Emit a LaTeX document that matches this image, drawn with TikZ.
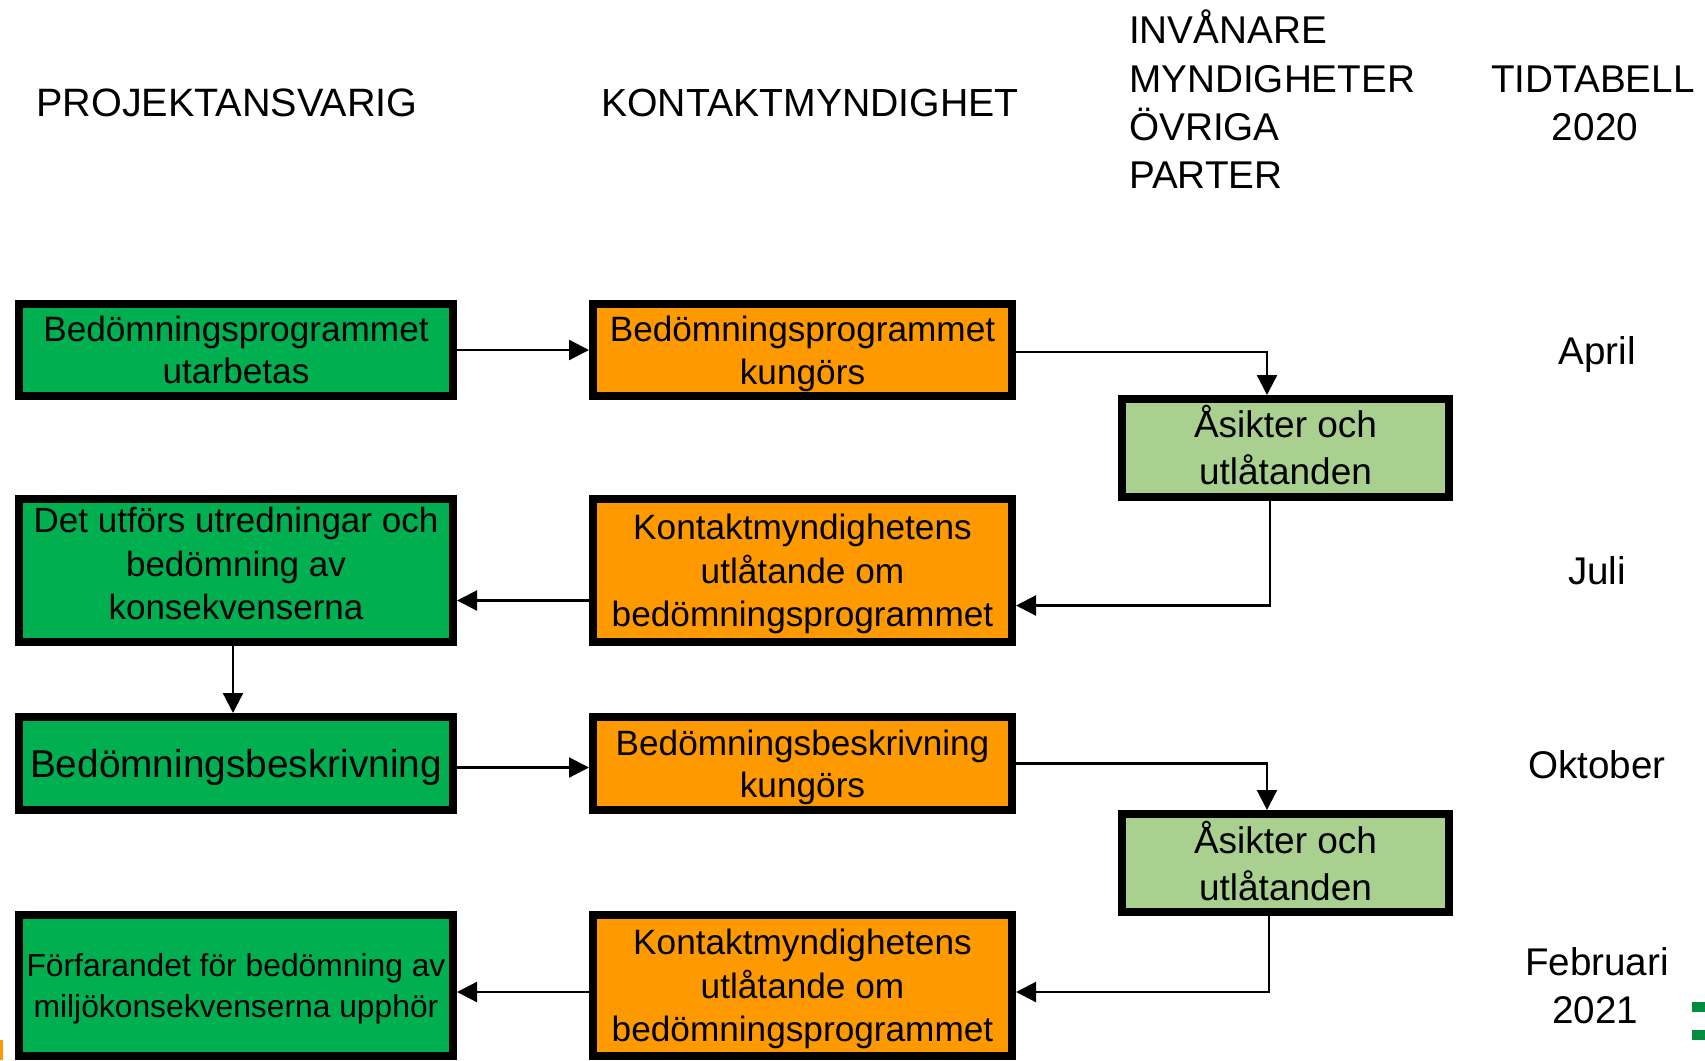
\documentclass[tikz,border=0pt]{standalone}
\usepackage{fontspec}
\setmainfont{Liberation Sans}
\usetikzlibrary{arrows.meta}
\definecolor{pgreen}{HTML}{00B050}
\definecolor{porange}{HTML}{FF9900}
\definecolor{plight}{HTML}{A9D08E}
\tikzset{
  box/.style={draw=black, line width=8pt, inner sep=0pt, align=center, text=black},
  wide/.style={box, minimum width=434pt},
  mid/.style={box, minimum width=419pt},
  small/.style={box, minimum width=327pt, minimum height=98pt,fill=plight,
     font=\fontsize{37}{47}\selectfont},
  gbox/.style={wide, fill=pgreen},
  obox/.style={mid, fill=porange},
  bodyfont/.style={font=\fontsize{35.2}{42.5}\selectfont},
  head/.style={font=\fontsize{38.7}{48}\selectfont, inner sep=0pt, text=black},
  timelab/.style={font=\fontsize{38.6}{48}\selectfont, inner sep=0pt, anchor=base, text=black},
  conn/.style={line width=2.2pt, -{Triangle[length=20pt,width=20pt]}}
}
\newcommand{\dropdepth}[1]{\rule[-#1]{0pt}{#1}}
\begin{document}
\begin{tikzpicture}[x=1pt,y=-1pt]
\useasboundingbox (0,0) rectangle (1705,1060);
\fill[white] (0,0) rectangle (1705,1060);

% headers
\node[head, anchor=west, font=\fontsize{39.6}{48}\selectfont] (h1) at (36,103) {PROJEKTANSVARIG};
\node[head, anchor=west, font=\fontsize{39.2}{48}\selectfont] (h2) at (601,103) {KONTAKTMYNDIGHET};
\node[head, anchor=base west] (h3a) at (1129,43) {INVÅNARE};
\node[head, anchor=base west] (h3b) at (1129,92) {MYNDIGHETER};
\node[head, anchor=base west] (h3c) at (1129,140) {ÖVRIGA};
\node[head, anchor=base west] (h3d) at (1129,188) {PARTER};
\node[head, anchor=base] (h4a) at (1593,92) {TIDTABELL};
\node[head, anchor=base] (h4b) at (1595,140) {2020};

% time labels
\node[timelab] (t1) at (1597,364) {April};
\node[timelab] (t2) at (1597,584) {Juli};
\node[timelab] (t3) at (1597,778) {Oktober};
\node[timelab] (t4) at (1597,975) {Februari};
\node[timelab] (t5) at (1595,1023) {2021};

% boxes
\node[gbox, bodyfont, minimum height=92pt] (G1) at (236,350) {Bedömningsprogrammet\\utarbetas};
\node[obox, bodyfont, minimum height=92pt] (O1) at (802.5,350) {Bedömningsprogrammet\\\smash{kungörs}};
\node[small] (L1) at (1285.5,448) {Åsikter och\\utlåtanden\dropdepth{6.5pt}};
\node[gbox, font=\fontsize{35}{43.5}\selectfont, minimum height=143pt] (G2) at (236,570.5) {Det utförs utredningar och\\bedömning av\\konsekvenserna\dropdepth{14pt}};
\node[obox, font=\fontsize{35.2}{43.5}\selectfont, minimum height=143pt] (O2) at (802.5,570.5) {Kontaktmyndighetens\\utlåtande om\\\smash{bedömningsprogrammet}};
\node[gbox, font=\fontsize{38.8}{46}\selectfont, minimum height=93pt, text depth=0pt] (G3) at (236,763.5) {Bedömningsbeskrivning};
\node[obox, bodyfont, minimum height=93pt] (O3) at (802.5,763.5) {Bedömningsbeskrivning\\\smash{kungörs}};
\node[small] (L2) at (1285.5,863) {Åsikter och\\utlåtanden\dropdepth{4.5pt}};
\node[gbox, font=\fontsize{31.8}{41}\selectfont, minimum height=141pt] (G4) at (236,985.5) {Förfarandet för bedömning av\\\smash{miljökonsekvenserna upphör}};
\node[obox, font=\fontsize{35.2}{43.5}\selectfont, minimum height=141pt] (O4) at (802.5,985.5) {Kontaktmyndighetens\\utlåtande om\\\smash{bedömningsprogrammet}};

% connectors
\draw[conn] (G1) -- (O1);
\draw[conn] ([yshift=-2pt]O1.east) -| ([xshift=-18.5pt]L1.north);
\draw[conn] ([xshift=-15.5pt]L1.south) |- ([yshift=-35pt]O2.east);
\draw[conn] ([yshift=-30pt]O2.west) -- ([yshift=-30pt]G2.east);
\draw[conn] ([xshift=-3pt]G2.south) -- ([xshift=-3pt]G3.north);
\draw[conn] ([yshift=-4pt]G3.east) -- ([yshift=-4pt]O3.west);
\draw[conn] (O3.east) -| ([xshift=-18.5pt]L2.north);
\draw[conn] ([xshift=-16.5pt]L2.south) |- ([yshift=-6.5pt]O4.east);
\draw[conn] ([yshift=-6.5pt]O4.west) -- ([yshift=-6.5pt]G4.east);

% edge fragments
\fill[porange] (0,1040) rectangle (3,1060);
\fill[pgreen!80!black] (1692,1002) rectangle (1705,1012);
\fill[pgreen!80!black] (1692,1030) rectangle (1705,1040);
\end{tikzpicture}
\end{document}
